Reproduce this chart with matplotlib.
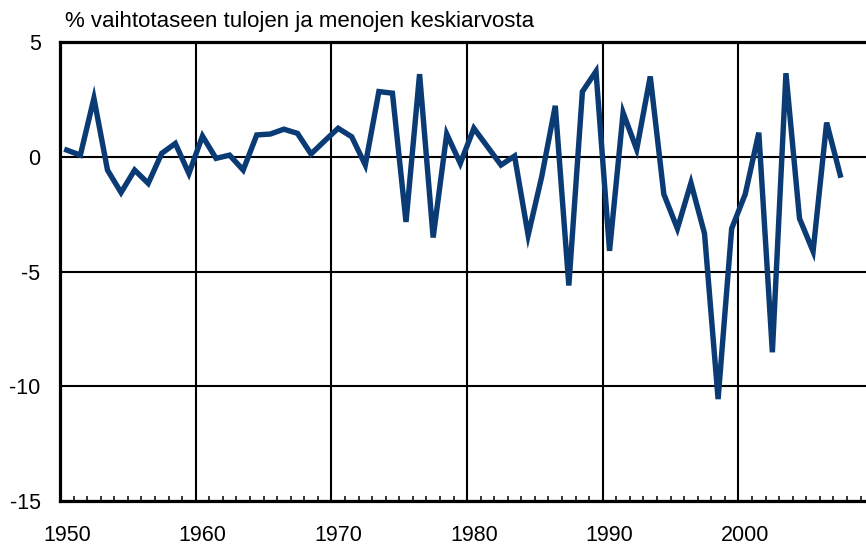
import numpy as np
import matplotlib
matplotlib.use("Agg")
import matplotlib.pyplot as plt
from matplotlib.transforms import ScaledTranslation

plt.rcParams['font.family'] = ['Liberation Sans', 'DejaVu Sans']

# --- data ---
years = np.arange(1950, 2008)
values = [
    0.29, 0.07, 2.55, -0.58, -1.56, -0.58, -1.16, 0.15, 0.58, -0.73,   # 1950-59
    0.90, -0.07, 0.07, -0.58, 0.95, 0.99, 1.20, 1.02, 0.12, 0.69,      # 1960-69
    1.24, 0.87, -0.36, 2.84, 2.77, -2.84, 3.60, -3.52, 0.99, -0.29,    # 1970-79
    1.24, 0.44, -0.36, 0.03, -3.42, -0.87, 2.22, -5.61, 2.84, 3.72,    # 1980-89
    -4.10, 1.92, 0.32, 3.50, -1.63, -3.13, -1.14, -3.35, -10.56, -3.13,  # 1990-99
    -1.63, 1.05, -8.52, 3.64, -2.69, -4.12, 1.49, -0.80,               # 2000-07
]
decades = [1950, 1960, 1970, 1980, 1990, 2000]
y_ticks = [5, 0, -5, -10, -15]
title = "% vaihtotaseen tulojen ja menojen keskiarvosta"

fig = plt.figure(figsize=(8.66, 5.45), dpi=100)
ax = fig.add_axes([60 / 866, 1 - 501 / 545, 1 - 60 / 866, (501 - 42) / 545])

# points sit in the middle of each year slot
ax.plot(years + 0.5, values, color='#0b3b74', linewidth=3.9,
        solid_joinstyle='miter', zorder=3)

ax.set_xlim(1950, 2009.4)
ax.set_ylim(-15, 5)

ax.set_xticks(decades)
ax.set_xticklabels([str(d) for d in decades])
ax.set_xticks(np.arange(1950, 2010), minor=True)
ax.set_yticks(y_ticks)
ax.set_yticklabels([str(v) for v in y_ticks])

ax.grid(True, which='major', color='black', linewidth=1.5)
ax.set_axisbelow(True)

ax.tick_params(axis='x', which='major', length=0, pad=17, labelsize=15.5)
ax.tick_params(axis='x', which='minor', direction='in', length=3.5,
               width=1.1, color='black')
ax.tick_params(axis='y', which='major', length=0, pad=14, labelsize=15.5)

# labels are centred on the year slot, not on the decade line
shift = ScaledTranslation(6.8 / 100, 0, fig.dpi_scale_trans)
for lab in ax.get_xticklabels():
    lab.set_transform(lab.get_transform() + shift)

for side in ['left', 'top', 'bottom']:
    ax.spines[side].set_linewidth(2.3)
    ax.spines[side].set_color('black')
ax.spines['right'].set_visible(False)

fig.text(65 / 866, 1 - 22 / 545, title, fontsize=16, ha='left', va='center')

fig.savefig('out.png', dpi=100)
